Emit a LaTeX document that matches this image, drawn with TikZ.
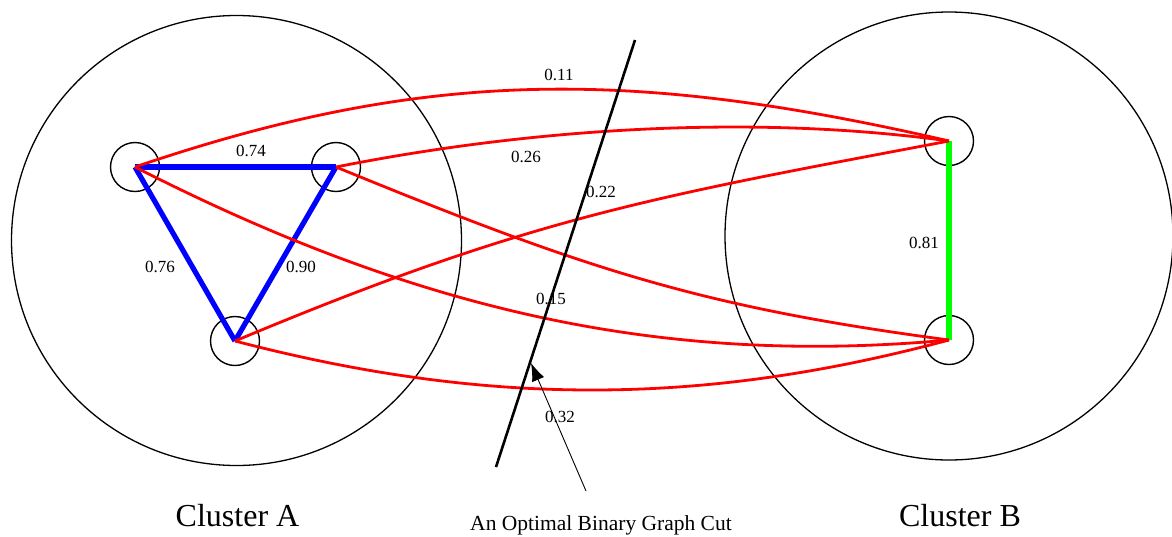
\documentclass[tikz,border=0pt]{standalone}
\usepackage{fontspec}
\setmainfont{Liberation Serif}
\usetikzlibrary{arrows.meta}
\definecolor{pblue}{RGB}{0,0,255}
\definecolor{pred}{RGB}{255,0,0}
\definecolor{pgreen}{RGB}{0,255,0}
\begin{document}
\begin{tikzpicture}[x=1pt,y=-1pt,
  vert/.style={circle,draw=black,line width=1.4pt,minimum size=49pt,inner sep=0pt},
  cluster/.style={circle,draw=black,line width=1.3pt,inner sep=0pt},
  intra/.style={line width=5.2pt,draw=pblue},
  bedge/.style={line width=5.5pt,draw=pgreen},
  cross/.style={line width=2.8pt,draw=pred},
  cutline/.style={line width=2.6pt,draw=black},
  pointer/.style={line width=0.9pt,draw=black,-{Latex[length=18pt,width=13pt]}},
  wlab/.style={inner sep=0pt,font=\fontsize{17}{17}\selectfont},
  caption/.style={inner sep=0pt,anchor=base,font=\fontsize{32}{32}\selectfont},
  smallcap/.style={inner sep=0pt,anchor=base,font=\fontsize{21.5}{21.5}\selectfont}
]
\useasboundingbox[fill=white] (0,0) rectangle (1172,536);

% clusters
\node[cluster,minimum size=450pt] (CA) at (236.5,240.5) {};
\node[cluster,minimum size=448pt] (CB) at (949,236) {};

% vertices
\node[vert] (A1) at (135,167) {};
\node[vert] (A2) at (336,167) {};
\node[vert] (A3) at (235,341) {};
\node[vert] (B1) at (949,141) {};
\node[vert] (B2) at (949,340) {};

% intra-cluster edges
\draw[intra] (A1.center) -- (A2.center);
\draw[intra] (A1.center) -- (A3.center);
\draw[intra] (A2.center) -- (A3.center);
\draw[bedge] (B1.center) -- (B2.center);

% inter-cluster edges
\draw[cross] (A1.center) .. controls (426,68) and (632,68) .. (B1.center);
\draw[cross] (A2.center) .. controls (532,128) and (753,114) .. (B1.center);
\draw[cross] (A3.center) .. controls (531,217) and (653,197) .. (B1.center);
\draw[cross] (A1.center) .. controls (419,312) and (665,366) .. (B2.center);
\draw[cross] (A2.center) .. controls (585,269) and (700,307) .. (B2.center);
\draw[cross] (A3.center) .. controls (484,406) and (700,407) .. (B2.center);

% cut
\coordinate (cutT) at (635,40);
\coordinate (cutB) at (496,467);
\draw[cutline] (cutB) -- (cutT);
\coordinate (arrS) at (586,491);
\coordinate (arrT) at (531,363);
\draw[pointer] (arrS) -- (arrT);

% weights
\node[wlab] (w1) at (251,151) {0.74};
\node[wlab] (w2) at (160,267) {0.76};
\node[wlab] (w3) at (301,267) {0.90};
\node[wlab] (w4) at (559,75) {0.11};
\node[wlab] (w5) at (526,157) {0.26};
\node[wlab] (w6) at (601,192) {0.22};
\node[wlab] (w7) at (551,299) {0.15};
\node[wlab] (w8) at (560,417) {0.32};
\node[wlab] (w9) at (924,243) {0.81};

% captions
\node[caption] (capA) at (237.5,526) {Cluster A};
\node[caption] (capB) at (960,526) {Cluster B};
\node[smallcap] (capCut) at (601,530) {An Optimal Binary Graph Cut};
\end{tikzpicture}
\end{document}
